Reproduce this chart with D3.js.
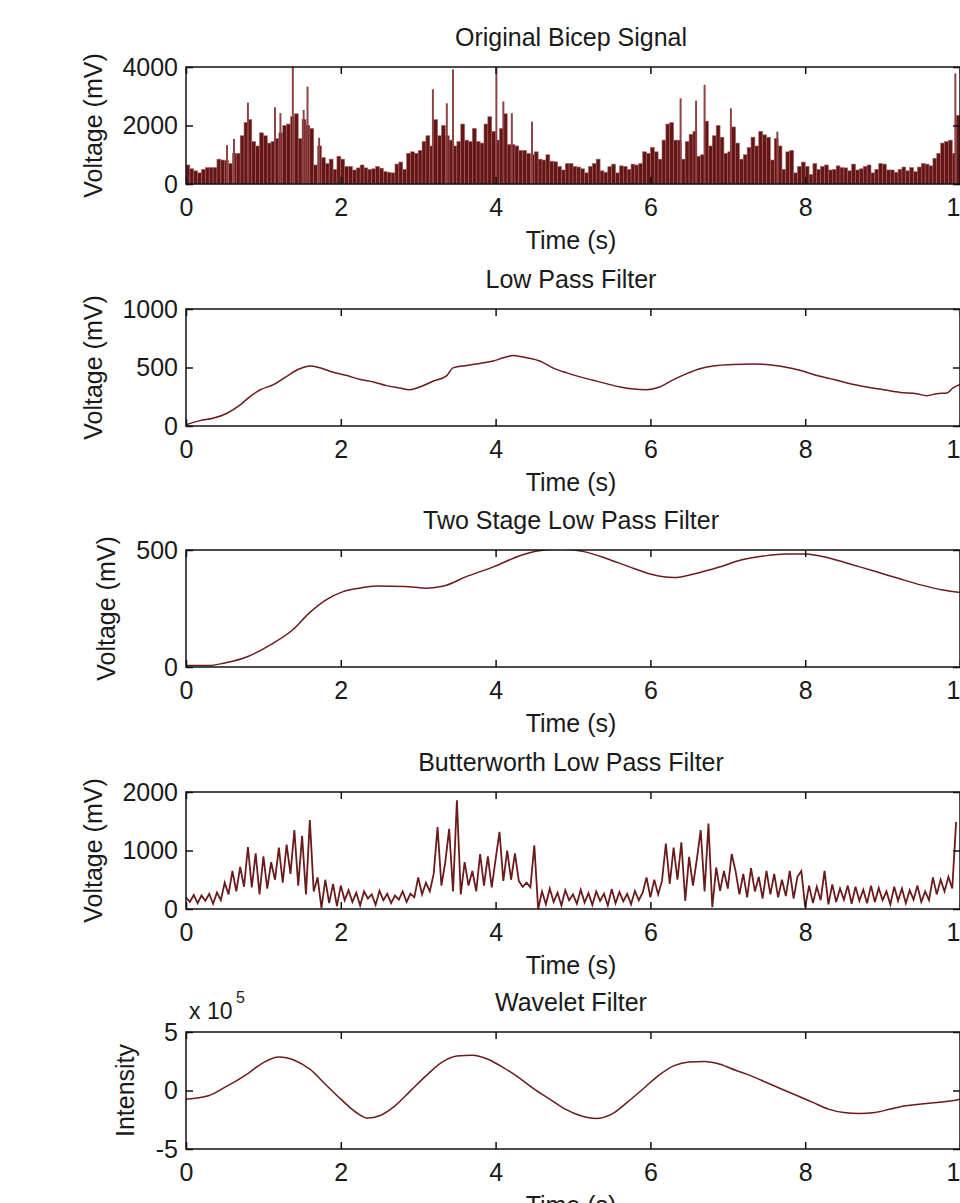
<!DOCTYPE html>
<html lang="en">
<head>
  <meta charset="UTF-8">
  <title>Bicep Signal Filters</title>
  <style>
    body {
      margin: 0;
      background: #fff;
    }
    svg text {
      font-family: 'Liberation Sans', Arial, sans-serif;
      fill: #1a1a1a;
    }
  </style>
</head>
<body>
  <div id="chart"></div>

  <script src="https://d3js.org/d3.v7.min.js"></script>

  <script>
    // ---- data ----
    // original signal: bar heights every 0.05 s
    const rawStep = 0.05;
    const rawBars = [
      650, 520, 450, 380, 500, 560, 560, 560, 850, 820,
      800, 700, 1050, 1050, 1650, 2100, 2200, 1450, 1300, 1750,
      1650, 1400, 1450, 1550, 1750, 2000, 2050, 2300, 2400, 1550,
      2200, 2000, 1900, 650, 1300, 900, 700, 850, 500, 950,
      850, 600, 600, 480, 550, 650, 550, 500, 520, 600,
      540, 420, 400, 380, 680, 750, 500, 1050, 1100, 1050,
      1150, 1450, 1650, 1300, 2200, 1650, 2000, 1650, 1500, 1300,
      1450, 2050, 1500, 1450, 1900, 1450, 1400, 2050, 2300, 1800,
      1500, 1900, 2400, 1350, 1350, 1300, 1150, 1150, 1050, 1000,
      1100, 850, 820, 1000, 780, 760, 600, 480, 700, 700,
      600, 580, 520, 380, 600, 700, 850, 450, 400, 590,
      680, 380, 620, 600, 500, 680, 650, 700, 1100, 1050,
      1250, 1100, 850, 1500, 2050, 2100, 1500, 1500, 850, 1450,
      1700, 1800, 950, 1000, 2150, 1300, 1650, 2000, 1600, 1050,
      1100, 1950, 1400, 850, 1000, 1250, 1600, 1300, 1800, 1680,
      1600, 820, 1550, 1300, 500, 1100, 1150, 380, 600, 750,
      600, 330, 700, 500, 600, 650, 480, 500, 620, 560,
      550, 450, 680, 480, 520, 600, 650, 380, 500, 700,
      680, 480, 480, 400, 500, 580, 450, 560, 420, 580,
      700, 680, 620, 880, 1050, 1400, 1450, 1500, 1050, 2350
    ];
    // thin tall spikes in the original signal
    const spikeT = [0.53, 0.62, 0.80, 1.15, 1.22, 1.38, 1.52, 1.57, 1.72, 3.19, 3.37,
                    3.45, 4.01, 4.10, 4.21, 4.47, 6.39, 6.59, 6.70, 7.04, 7.64, 9.94];
    const spikeV = [1330, 1540, 2780, 2620, 2420, 4000, 2530, 3330, 1580, 3240, 2760,
                    3920, 4000, 2820, 2420, 2130, 2930, 2850, 3390, 2590, 1790, 3780];

    // low pass filter
    const lowT = [0, 0.18, 0.35, 0.53, 0.70, 0.83, 0.96, 1.13, 1.30, 1.47, 1.60, 1.73, 1.90,
                  2.08, 2.25, 2.42, 2.59, 2.76, 2.89, 3.02, 3.19, 3.37, 3.45, 3.63, 3.80, 3.97,
                  4.10, 4.23, 4.40, 4.57, 4.74, 4.92, 5.09, 5.26, 5.43, 5.61, 5.78, 5.95, 6.12,
                  6.30, 6.47, 6.64, 6.81, 7.07, 7.33, 7.50, 7.72, 7.93, 8.15, 8.37, 8.58, 8.80,
                  9.01, 9.23, 9.44, 9.57, 9.70, 9.83, 9.91, 10.0];
    const lowV = [10, 46, 66, 109, 181, 253, 310, 353, 425, 489, 512, 497, 460,
                  431, 397, 376, 345, 325, 310, 333, 382, 431, 497, 517, 535, 555,
                  583, 603, 583, 555, 497, 454, 420, 391, 362, 333, 316, 310, 333,
                  397, 448, 489, 512, 526, 529, 526, 506, 477, 431, 397, 362, 333,
                  310, 287, 276, 259, 276, 282, 325, 355];

    // two stage low pass filter
    const twoT = [0, 0.29, 0.5, 0.8, 1.09, 1.38, 1.59, 1.81, 2.03, 2.24, 2.46, 2.82, 3.11,
                  3.33, 3.62, 3.98, 4.34, 4.56, 4.85, 5.14, 5.43, 5.72, 6.01, 6.30, 6.59,
                  6.88, 7.17, 7.46, 7.75, 8.0, 8.33, 8.62, 8.91, 9.20, 9.49, 9.78, 10.0];
    const twoV = [6, 6, 17, 45, 95, 159, 230, 287, 322, 337, 346, 344, 337,
                  346, 386, 429, 479, 497, 503, 493, 464, 429, 396, 382, 400,
                  426, 457, 474, 483, 483, 464, 436, 408, 379, 351, 329, 318];

    // butterworth low pass filter, one sample every 0.05 s
    const butterStep = 0.05;
    const butterV = [
      200, 120, 240, 100, 230, 140, 260, 90, 280, 150,
      450, 250, 650, 300, 720, 380, 1060, 370, 950, 250,
      900, 350, 800, 500, 1050, 450, 1100, 600, 1350, 400,
      1250, 250, 1520, 300, 540, 20, 500, 100, 430, 50,
      400, 150, 320, 120, 280, 60, 300, 180, 250, 70,
      310, 150, 260, 100, 230, 160, 300, 120, 260, 200,
      540, 250, 450, 300, 600, 1400, 400, 800, 1370, 300,
      1860, 250, 800, 400, 650, 300, 940, 400, 900, 370,
      850, 1320, 480, 1000, 500, 950, 480, 380, 450, 370,
      1090, 0, 300, 80, 350, 120, 280, 60, 320, 150,
      250, 90, 330, 110, 270, 70, 300, 140, 260, 60,
      340, 100, 290, 130, 260, 80, 310, 150, 280, 540,
      200, 500, 250, 480, 1120, 430, 1050, 500, 1140, 140,
      890, 400, 850, 1350, 300, 1460, 30, 710, 310, 650,
      350, 940, 650, 250, 600, 200, 700, 300, 550, 180,
      650, 250, 600, 200, 500, 220, 650, 180, 550, 650,
      30, 400, 100, 380, 150, 650, 80, 420, 120, 350,
      160, 400, 90, 380, 140, 330, 100, 400, 120, 360,
      150, 300, 80, 380, 140, 350, 100, 320, 160, 400,
      120, 300, 150, 540, 250, 500, 300, 550, 350, 1490
    ];

    // wavelet filter (x 10^5)
    const wavT = [0, 0.29, 0.5, 0.8, 1.0, 1.2, 1.4, 1.6, 1.8, 2.0, 2.2, 2.35, 2.5, 2.7, 2.9,
                  3.1, 3.3, 3.5, 3.7, 3.9, 4.1, 4.3, 4.5, 4.7, 4.9, 5.1, 5.3, 5.5, 5.7, 5.9,
                  6.1, 6.3, 6.5, 6.7, 6.9, 7.1, 7.3, 7.5, 7.7, 7.9, 8.1, 8.3, 8.5, 8.7, 8.9,
                  9.1, 9.3, 9.5, 9.7, 9.9, 10];
    const wavV = [-0.74, -0.45, 0.26, 1.45, 2.39, 2.87, 2.59, 1.82, 0.54, -0.74, -1.88, -2.36,
                  -2.16, -1.31, -0.03, 1.25, 2.39, 2.95, 3.01, 2.67, 1.96, 1.11, 0.11, -0.74,
                  -1.59, -2.16, -2.39, -2.02, -1.02, 0.11, 1.25, 2.1, 2.44, 2.47, 2.24, 1.73,
                  1.25, 0.68, 0.11, -0.45, -1.02, -1.59, -1.88, -1.96, -1.88, -1.59, -1.31,
                  -1.16, -1.02, -0.88, -0.74];

    const xTicks = [0, 2, 4, 6, 8, 10];
    const titles = ["Original Bicep Signal", "Low Pass Filter", "Two Stage Low Pass Filter",
                    "Butterworth Low Pass Filter", "Wavelet Filter"];
    const yLabels = ["Voltage (mV)", "Voltage (mV)", "Voltage (mV)", "Voltage (mV)", "Intensity"];
    const yDomains = [[0, 4000], [0, 1000], [0, 500], [0, 2000], [-5, 5]];
    const yTicks = [[0, 2000, 4000], [0, 500, 1000], [0, 500], [0, 1000, 2000], [-5, 0, 5]];

    // ---- layout ----
    const width = 960, height = 1203;
    const left = 186, right = 960, plotH = 117;
    const tops = [67, 309, 550, 792, 1032];
    const ylabelX = [102, 102, 115, 102, 134];
    const fontSize = 25;
    const ink = "#6b1b1b";
    const plain = d => String(d);   // MATLAB uses a plain hyphen for negatives

    const svg = d3.select("#chart")
      .append("svg")
      .attr("width", width)
      .attr("height", height)
      .style("display", "block");

    svg.append("rect").attr("width", width).attr("height", height).attr("fill", "#fff");

    const x = d3.scaleLinear().domain([0, 10]).range([left, right]);

    tops.forEach((top, k) => {
      const bottom = top + plotH;
      const y = d3.scaleLinear().domain(yDomains[k]).range([bottom, top]);
      const g = svg.append("g");

      svg.append("clipPath").attr("id", "clip" + k)
        .append("rect")
        .attr("x", left).attr("y", top)
        .attr("width", right - left).attr("height", plotH);

      const plot = g.append("g").attr("clip-path", `url(#clip${k})`);

      if (k === 0) {
        const bw = x(rawStep) - x(0);
        plot.selectAll("rect.bar")
          .data(rawBars)
          .join("rect")
          .attr("class", "bar")
          .attr("x", (d, i) => x(i * rawStep))
          .attr("y", d => y(d))
          .attr("width", bw)
          .attr("height", d => y(0) - y(d))
          .attr("fill", "#621616")
          .attr("stroke", "#a86262")
          .attr("stroke-width", 0.6);

        plot.selectAll("line.spike")
          .data(spikeT)
          .join("line")
          .attr("class", "spike")
          .attr("x1", d => x(d)).attr("x2", d => x(d))
          .attr("y1", y(0))
          .attr("y2", (d, i) => y(spikeV[i]))
          .attr("stroke", "#8e4444")
          .attr("stroke-width", 2);
      } else {
        let pts;
        if (k === 1) pts = lowT.map((t, i) => [t, lowV[i]]);
        if (k === 2) pts = twoT.map((t, i) => [t, twoV[i]]);
        if (k === 3) pts = butterV.map((v, i) => [i * butterStep, v]);
        if (k === 4) pts = wavT.map((t, i) => [t, wavV[i]]);

        const line = d3.line()
          .x(d => x(d[0]))
          .y(d => y(d[1]))
          .curve(k === 3 ? d3.curveLinear : d3.curveMonotoneX);

        plot.append("path")
          .datum(pts)
          .attr("d", line)
          .attr("fill", "none")
          .attr("stroke", ink)
          .attr("stroke-width", k === 3 ? 1.8 : 1.5);
      }

      // axes, ticks pointing inward like MATLAB
      g.append("g")
        .attr("transform", `translate(0,${bottom})`)
        .call(d3.axisBottom(x).tickValues(xTicks).tickFormat(plain)
          .tickSizeInner(-7).tickSizeOuter(0).tickPadding(14));
      g.append("g")
        .attr("transform", `translate(0,${top})`)
        .call(d3.axisTop(x).tickValues(xTicks).tickFormat("")
          .tickSizeInner(-7).tickSizeOuter(0));
      g.append("g")
        .attr("transform", `translate(${left},0)`)
        .call(d3.axisLeft(y).tickValues(yTicks[k]).tickFormat(plain)
          .tickSizeInner(-7).tickSizeOuter(0).tickPadding(8));
      g.append("g")
        .attr("transform", `translate(${right},0)`)
        .call(d3.axisRight(y).tickValues(yTicks[k]).tickFormat("")
          .tickSizeInner(-7).tickSizeOuter(0));

      g.selectAll(".domain").remove();
      g.selectAll(".tick line").attr("stroke", "#111").attr("stroke-width", 1.5);
      g.selectAll(".tick text")
        .style("font-size", fontSize + "px")
        .style("font-family", "'Liberation Sans', Arial, sans-serif")
        .attr("fill", "#1a1a1a");

      g.append("rect")
        .attr("x", left).attr("y", top)
        .attr("width", right - left).attr("height", plotH)
        .attr("fill", "none")
        .attr("stroke", "#111")
        .attr("stroke-width", 1.5);

      g.append("text")
        .attr("x", (left + right) / 2 - 2)
        .attr("y", top - 21)
        .attr("text-anchor", "middle")
        .style("font-size", fontSize + "px")
        .text(titles[k]);

      g.append("text")
        .attr("x", (left + right) / 2 - 2)
        .attr("y", bottom + 65)
        .attr("text-anchor", "middle")
        .style("font-size", fontSize + "px")
        .text("Time (s)");

      g.append("text")
        .attr("transform", `translate(${ylabelX[k]},${(top + bottom) / 2}) rotate(-90)`)
        .attr("text-anchor", "middle")
        .style("font-size", fontSize + "px")
        .text(yLabels[k]);

      if (k === 4) {
        g.append("text")
          .attr("x", 189).attr("y", top - 13)
          .style("font-size", "23px")
          .text("x 10");
        g.append("text")
          .attr("x", 236).attr("y", top - 29)
          .style("font-size", "16px")
          .text("5");
      }
    });
  </script>
</body>
</html>
